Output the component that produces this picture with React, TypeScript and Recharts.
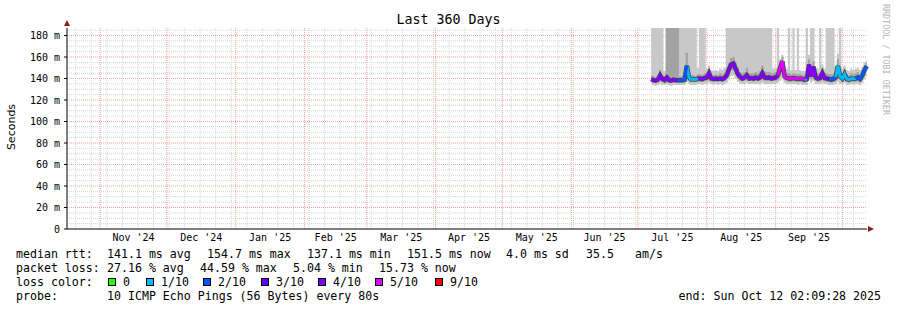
import React from 'react';
import { ComposedChart, XAxis, YAxis, Area, Line, CartesianGrid, ReferenceDot } from 'recharts';

const DAY = 86400000;
const END_TIME = Date.UTC(2025, 9, 12, 2, 9, 28);
const START_TIME = END_TIME - 360 * DAY;
const FIRST_SAMPLE = Date.UTC(2025, 6, 7);

// month boundaries (year, month index) and the labels centred between them
const monthStarts = [
  [2024, 10], [2024, 11], [2025, 0], [2025, 1], [2025, 2], [2025, 3],
  [2025, 4], [2025, 5], [2025, 6], [2025, 7], [2025, 8], [2025, 9],
];
const monthLabels = ["Nov '24", "Dec '24", "Jan '25", "Feb '25", "Mar '25", "Apr '25", "May '25", "Jun '25", "Jul '25", "Aug '25", "Sep '25"];
const yTicks = [0, 20, 40, 60, 80, 100, 120, 140, 160, 180];

const lossLevels = [0, 1, 2, 3, 4, 5, 9];
const lossNames = ['0', '1/10', '2/10', '3/10', '4/10', '5/10', '9/10'];
const lossColors = ['#26ff00', '#00b8ff', '#0059ff', '#5e00ff', '#7e00ff', '#dd00ff', '#ff0000'];

// one sample per day from Jul 7 2025 (ms)
const medianRtt = [
  139.5, 138.5, 138, 139, 143, 139.5, 138.5, 141, 138.5, 138,
  139, 138.5, 138.5, 138.5, 138.5, 139, 152, 141, 139, 139.5,
  139, 140, 140, 139.5, 140.5, 141, 145, 140, 139.5, 140,
  139.5, 140, 139.5, 140.5, 143, 149, 153, 154, 149, 144,
  141.5, 140, 141, 143, 140, 140.5, 140, 141, 140, 141,
  145, 141, 140.5, 141, 140, 140.5, 141, 143, 150, 156,
  142, 140.5, 140, 140, 140.5, 140, 139.5, 140, 139.5, 139,
  139.5, 153, 142, 151, 141, 140, 140.5, 145, 140.5, 140,
  139.5, 139, 139.5, 141, 152, 142, 140, 144, 139.5, 139,
  140, 139.5, 140, 141, 139.5, 143, 148, 151.5,
];
const lossCount = [
  4, 4, 3, 4, 4, 4, 3, 4, 4, 4,
  3, 4, 4, 2, 2, 2, 2, 1, 1, 1,
  1, 1, 4, 4, 4, 4, 4, 4, 4, 3,
  4, 4, 4, 4, 4, 4, 4, 4, 4, 4,
  4, 4, 3, 4, 4, 4, 3, 4, 4, 4,
  4, 4, 4, 4, 3, 4, 4, 4, 5, 5,
  5, 5, 5, 5, 5, 5, 5, 5, 5, 5,
  1, 4, 4, 4, 4, 4, 4, 4, 4, 4,
  3, 2, 2, 2, 1, 1, 1, 1, 1, 1,
  1, 1, 1, 2, 2, 2, 2, 2,
];
const smokeOuterLow = [
  134, 134, 133, 134, 135, 134, 134, 135, 134, 133,
  134, 134, 134, 134, 134, 134, 137, 135, 134, 134,
  134, 135, 135, 134, 135, 135, 136, 135, 134, 135,
  134, 135, 134, 135, 136, 139, 142, 143, 140, 137,
  135, 135, 135, 136, 135, 135, 135, 135, 135, 135,
  136, 135, 135, 135, 135, 135, 135, 136, 138, 141,
  136, 135, 135, 135, 135, 135, 134, 135, 134, 134,
  134, 139, 136, 138, 135, 135, 135, 136, 135, 135,
  134, 134, 134, 135, 137, 135, 135, 136, 134, 134,
  135, 134, 135, 135, 134, 136, 139, 142,
];
const smokeOuterHigh = [
  200, 200, 200, 200, 200, 200, 147, 200, 200, 200,
  200, 200, 200, 200, 200, 200, 200, 200, 200, 200,
  200, 150, 200, 200, 200, 149, 152, 148, 147, 148,
  147, 149, 148, 150, 200, 200, 200, 200, 200, 200,
  200, 200, 200, 200, 200, 200, 200, 200, 200, 200,
  200, 200, 200, 200, 200, 149, 150, 200, 158, 162,
  151, 149, 200, 148, 200, 148, 200, 148, 147, 147,
  200, 162, 200, 200, 150, 149, 200, 153, 149, 200,
  200, 200, 200, 151, 163, 200, 149, 152, 148, 147,
  149, 148, 149, 150, 148, 151, 155, 157,
];
const smokeMidLow = [
  137, 136, 136, 136, 139, 137, 136, 138, 136, 136,
  136, 136, 136, 136, 136, 136, 142, 138, 137, 137,
  137, 137, 137, 137, 138, 138, 140, 138, 137, 137,
  137, 138, 137, 138, 140, 144, 147, 148, 144, 140,
  138, 138, 138, 139, 138, 138, 137, 138, 138, 138,
  140, 138, 138, 138, 138, 138, 138, 139, 143, 148,
  139, 138, 137, 137, 138, 137, 137, 137, 137, 136,
  137, 145, 139, 144, 138, 137, 138, 140, 138, 137,
  137, 136, 137, 138, 143, 139, 137, 139, 137, 136,
  137, 137, 137, 138, 137, 139, 143, 147,
];
const smokeMidHigh = [
  143, 142, 141, 143, 148, 143, 142, 200, 200, 200,
  200, 200, 200, 142, 142, 143, 164, 146, 143, 143,
  142, 144, 144, 143, 145, 145, 149, 144, 143, 144,
  143, 145, 144, 145, 148, 155, 159, 160, 155, 150,
  146, 145, 146, 150, 145, 145, 145, 146, 145, 147,
  152, 147, 146, 146, 145, 145, 146, 149, 155, 160,
  147, 145, 145, 144, 145, 144, 144, 144, 143, 143,
  144, 158, 148, 156, 146, 145, 145, 150, 145, 145,
  144, 144, 144, 147, 158, 148, 145, 149, 144, 143,
  145, 144, 145, 146, 144, 148, 152, 155,
];

const rttStats = ['141.1 ms avg', '154.7 ms max', '137.1 ms min', '151.5 ms now', '4.0 ms sd', '35.5', 'am/s'];
const lossStats = ['27.16 % avg', '44.59 % max', '5.04 % min', '15.73 % now'];

const data = medianRtt.map((m, i) => {
  const row: Record<string, any> = {
    t: FIRST_SAMPLE + i * DAY,
    median: m,
    outer: [smokeOuterLow[i], smokeOuterHigh[i]],
    mid: [smokeMidLow[i], smokeMidHigh[i]],
  };
  lossLevels.forEach((lvl) => {
    const own = lossCount[i] === lvl;
    const next = i + 1 < lossCount.length && lossCount[i + 1] === lvl;
    row['m' + lvl] = own || next ? m : null;
  });
  return row;
});

const monthTimes = monthStarts.map(([y, mo]) => Date.UTC(y, mo, 1));
const labelTicks = monthLabels.map((_, i) => (monthTimes[i] + monthTimes[i + 1]) / 2);

const weekTimes: number[] = [];
for (let t = Date.UTC(2024, 9, 21); t < END_TIME; t += 7 * DAY) {
  if (!monthTimes.includes(t)) weekTimes.push(t);
}
const minorY: number[] = [];
for (let v = 5; v < 187; v += 5) if (v % 20 !== 0) minorY.push(v);

const MONO = '"DejaVu Sans Mono", monospace';
const txt: React.CSSProperties = { position: 'absolute', fontFamily: MONO, fontSize: 11.6, lineHeight: '14px', whiteSpace: 'pre', color: '#000' };
const rttX = [107, 207, 307, 407, 506, 586, 635];
const lossX = [107, 200, 293, 379];
const legendX = [108, 146, 203, 261, 318, 375, 435];

export default function App() {
  const usedLevels = lossLevels.filter((l) => lossCount.includes(l));
  return (
    <div style={{ position: 'absolute', left: 0, top: 0, width: 897, height: 310, background: '#fff', overflow: 'hidden' }}>
      <div style={{ ...txt, left: 0, width: 897, top: 11, fontSize: 13.3, lineHeight: '18px', textAlign: 'center' }}>Last 360 Days</div>
      <div style={{ position: 'absolute', left: 11, top: 127, transform: 'translate(-50%, -50%) rotate(-90deg)', fontFamily: '"DejaVu Sans", sans-serif', fontSize: 11, whiteSpace: 'nowrap' }}>Seconds</div>
      <div style={{ position: 'absolute', left: 881, top: 4, writingMode: 'vertical-rl', fontFamily: MONO, fontSize: 8.4, color: '#b4b4b4', whiteSpace: 'nowrap' }}>RRDTOOL / TOBI OETIKER</div>

      <ComposedChart width={897} height={310} data={data} margin={{ top: 28, right: 30, bottom: 61, left: 0 }} style={{ position: 'absolute', left: 0, top: 0 }}>
        <CartesianGrid horizontalValues={minorY} verticalValues={weekTimes} stroke="#d4d4d4" strokeDasharray="1 1" fill="none" />
        <CartesianGrid horizontalValues={yTicks.slice(1)} verticalValues={monthTimes} stroke="#f0a0a0" strokeDasharray="1 1" fill="none" />
        <XAxis
          dataKey="t"
          type="number"
          domain={[START_TIME, END_TIME]}
          ticks={labelTicks}
          tickFormatter={(_v: number, i: number) => monthLabels[i]}
          interval={0}
          height={20}
          tickLine={false}
          tickSize={3}
          tickMargin={2}
          axisLine={{ stroke: '#000' }}
          tick={{ fontFamily: MONO, fontSize: 10, fill: '#000' }}
        />
        <YAxis
          type="number"
          domain={[0, 187]}
          allowDataOverflow
          ticks={yTicks}
          interval={0}
          width={67}
          tickSize={3}
          tickMargin={4}
          tickFormatter={(v: number) => (v === 0 ? '0' : `${v} m`)}
          axisLine={{ stroke: '#000' }}
          tickLine={{ stroke: '#000' }}
          tick={{ fontFamily: MONO, fontSize: 10, fill: '#000' }}
        />
        <Area dataKey="outer" type="step" fill="#c8c8c8" fillOpacity={1} stroke="none" isAnimationActive={false} />
        <Area dataKey="mid" type="step" fill="#a2a2a2" fillOpacity={1} stroke="none" isAnimationActive={false} />
        <Line dataKey="median" type="linear" stroke="#444" strokeWidth={4.5} dot={false} isAnimationActive={false} />
        {usedLevels.map((lvl) => (
          <Line
            key={lvl}
            dataKey={'m' + lvl}
            type="linear"
            stroke={lossColors[lossLevels.indexOf(lvl)]}
            strokeWidth={3}
            dot={false}
            connectNulls={false}
            isAnimationActive={false}
          />
        ))}
        <ReferenceDot
          x={END_TIME}
          y={0}
          ifOverflow="visible"
          shape={(p: any) => <polygon points={`${p.cx + 1},${p.cy - 3} ${p.cx + 7},${p.cy} ${p.cx + 1},${p.cy + 3}`} fill="#8b1a1a" />}
        />
        <ReferenceDot
          x={START_TIME}
          y={187}
          ifOverflow="visible"
          shape={(p: any) => <polygon points={`${p.cx - 3},${p.cy - 2} ${p.cx},${p.cy - 8} ${p.cx + 3},${p.cy - 2}`} fill="#8b1a1a" />}
        />
      </ComposedChart>

      <div style={{ ...txt, left: 16, top: 247 }}>median rtt:</div>
      {rttStats.map((s, i) => (
        <div key={'r' + i} style={{ ...txt, left: rttX[i], top: 247 }}>{s}</div>
      ))}
      <div style={{ ...txt, left: 16, top: 261 }}>packet loss:</div>
      {lossStats.map((s, i) => (
        <div key={'l' + i} style={{ ...txt, left: lossX[i], top: 261 }}>{s}</div>
      ))}
      <div style={{ ...txt, left: 16, top: 275 }}>loss color:</div>
      {lossNames.map((n, i) => (
        <React.Fragment key={'c' + i}>
          <div style={{ position: 'absolute', left: legendX[i], top: 278, width: 6, height: 6, border: '1px solid #000', background: lossColors[i] }} />
          <div style={{ ...txt, left: legendX[i] + 15, top: 275 }}>{n}</div>
        </React.Fragment>
      ))}
      <div style={{ ...txt, left: 16, top: 289 }}>probe:</div>
      <div style={{ ...txt, left: 107, top: 289 }}>10 ICMP Echo Pings (56 Bytes) every 80s</div>
      <div style={{ ...txt, right: 16, top: 289 }}>end: Sun Oct 12 02:09:28 2025</div>
    </div>
  );
}
